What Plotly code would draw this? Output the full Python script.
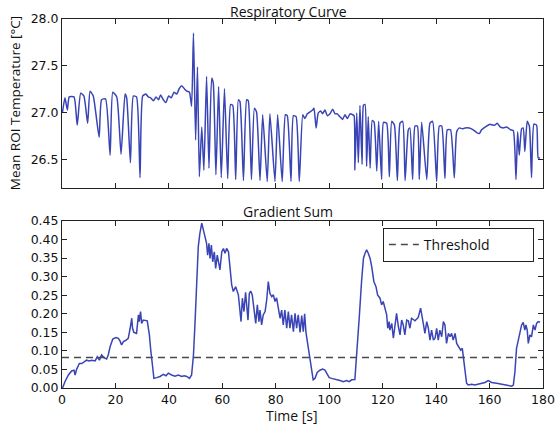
import plotly.graph_objects as go

# ---------------- data ----------------
RESP_T = [0.2, 1.1, 2.0, 2.7, 4.5, 5.7, 7.0, 8.2, 9.6, 10.5,
          11.7, 13.9, 14.8, 16.3, 18.0, 19.0, 20.5, 22.1, 23.6, 24.2,
          25.6, 26.7, 27.9, 29.2, 30.2, 31.4, 32.3, 33.2, 34.2, 35.2,
          36.1, 36.9, 37.9, 38.9, 39.9, 40.9, 41.9, 42.9, 43.9, 44.8,
          46.0, 46.9, 47.7, 48.5, 49.2, 50.0, 50.7, 51.4, 52.3, 53.1,
          54.1, 55.0, 56.0, 56.6, 57.6, 58.6, 59.6, 60.8, 62.0, 63.1,
          63.9, 65.0, 66.0, 66.6, 67.9, 69.1, 69.7, 70.9, 72.0, 72.8,
          74.1, 75.1, 76.8, 77.8, 79.7, 80.7, 82.4, 83.6, 84.3, 85.7,
          86.6, 87.6, 88.8, 90.1, 90.9, 91.8, 92.8, 93.8, 94.3, 95.1,
          95.9, 96.8, 97.5, 98.4, 99.3, 100.3, 101.3, 102.2, 103.0, 104.0,
          105.0, 105.9, 106.8, 107.8, 108.8, 109.3, 109.6, 110.3, 110.9, 111.5,
          112.3, 112.8, 113.4, 114.0, 114.6, 115.3, 116.1, 116.8, 117.8, 118.5,
          119.6, 120.3, 121.5, 122.5, 123.4, 124.4, 125.5, 126.5, 127.5, 128.4,
          129.6, 130.2, 131.2, 132.1, 133.0, 133.7, 134.6, 136.5, 137.7, 138.7,
          140.2, 141.2, 142.1, 143.3, 144.2, 145.4, 146.8, 147.7, 148.7, 149.9,
          150.8, 152.4, 153.9, 155.2, 156.2, 157.0, 157.9, 158.9, 160.2, 161.2,
          162.0, 162.9, 163.9, 165.1, 166.4, 167.9, 168.9, 169.9, 170.5, 171.1,
          172.0, 172.6, 173.2, 174.1, 174.9, 175.7, 176.6, 177.6, 178.2, 178.9]
RESP_V = [27.01, 27.16, 27.03, 27.17, 27.17, 26.87, 27.21, 27.18, 26.89, 27.23,
          27.18, 26.74, 27.14, 27.15, 26.55, 27.22, 27.17, 26.56, 27.20, 27.16,
          26.47, 27.18, 27.17, 26.31, 27.18, 27.20, 27.17, 27.16, 27.13, 27.17,
          27.14, 27.19, 27.14, 27.11, 27.18, 27.16, 27.22, 27.20, 27.26, 27.29,
          27.25, 27.23, 27.22, 27.07, 27.85, 26.71, 27.49, 26.32, 26.85, 26.39,
          27.39, 26.41, 27.37, 27.32, 26.34, 27.28, 26.31, 27.26, 26.30, 27.09,
          27.08, 26.29, 27.14, 27.12, 26.28, 27.14, 27.13, 26.29, 27.05, 27.01,
          26.28, 26.98, 26.27, 26.99, 26.27, 26.98, 26.27, 26.98, 26.97, 26.27,
          26.97, 26.96, 26.27, 26.98, 26.94, 26.99, 27.01, 27.03, 27.05, 26.84,
          27.00, 27.02, 26.99, 27.03, 26.97, 26.99, 27.04, 26.99, 26.99, 26.96,
          26.93, 26.98, 26.94, 26.99, 26.98, 26.97, 26.39, 27.00, 26.47, 27.08,
          26.45, 27.08, 27.09, 26.43, 26.96, 26.41, 26.92, 26.90, 26.38, 26.91,
          26.29, 26.90, 26.89, 26.32, 26.91, 26.87, 26.28, 26.89, 26.91, 26.28,
          26.82, 26.84, 26.29, 26.86, 26.86, 26.29, 26.90, 26.29, 26.89, 26.91,
          26.27, 26.86, 26.86, 26.30, 26.82, 26.82, 26.31, 26.80, 26.84, 26.83,
          26.84, 26.84, 26.82, 26.79, 26.78, 26.82, 26.84, 26.86, 26.88, 26.87,
          26.87, 26.89, 26.85, 26.84, 26.85, 26.82, 26.81, 26.29, 26.80, 26.55,
          26.83, 26.84, 26.59, 26.91, 26.86, 26.31, 26.88, 26.87, 26.52, 26.52]

GRAD_T = [0.2, 1.1, 2.4, 3.6, 4.5, 4.9, 5.5, 6.5, 7.4, 8.2,
          9.2, 10.2, 11.1, 12.4, 13.2, 14.0, 14.8, 15.7, 16.7, 17.3,
          18.0, 19.0, 20.2, 21.1, 21.7, 22.3, 23.0, 24.0, 24.8, 25.5,
          26.1, 26.4, 26.9, 27.9, 28.6, 28.9, 29.4, 29.8, 30.4, 31.9,
          32.7, 33.2, 33.9, 34.4, 35.4, 36.7, 37.9, 38.9, 39.8, 41.0,
          42.3, 43.5, 44.8, 45.7, 46.7, 47.7, 48.5, 49.2, 49.8, 50.4,
          51.0, 51.6, 52.3, 52.9, 53.5, 54.1, 54.5, 55.0, 55.4, 55.9,
          56.4, 57.0, 57.5, 58.1, 58.8, 59.1, 59.8, 60.4, 61.0, 61.6,
          62.3, 62.9, 63.5, 64.1, 65.0, 66.0, 66.6, 67.0, 67.5, 68.1,
          68.7, 69.1, 69.6, 70.1, 70.6, 71.2, 71.9, 72.5, 73.1, 73.7,
          74.1, 74.7, 75.3, 76.0, 76.6, 77.2, 77.8, 78.5, 79.1, 79.7,
          80.3, 81.0, 81.6, 82.2, 82.8, 83.4, 84.1, 84.7, 85.3, 85.9,
          86.6, 87.2, 87.8, 88.4, 89.1, 89.7, 90.3, 90.8, 91.3, 92.2,
          92.8, 93.4, 94.0, 94.7, 95.5, 96.5, 97.5, 98.4, 99.3, 100.0,
          100.9, 102.2, 103.0, 104.0, 105.3, 106.5, 107.5, 108.4, 109.6, 110.5,
          111.3, 112.1, 112.8, 113.4, 114.0, 114.6, 115.3, 115.9, 116.7, 117.5,
          118.1, 119.0, 119.6, 120.2, 120.9, 121.5, 121.9, 122.4, 122.7, 123.4,
          124.0, 124.6, 125.2, 125.9, 126.5, 127.1, 127.7, 128.3, 129.0, 129.6,
          130.2, 130.8, 132.1, 133.3, 134.2, 135.2, 135.8, 136.5, 137.1, 137.7,
          138.3, 139.0, 139.6, 140.2, 140.8, 141.4, 142.1, 142.7, 143.3, 143.9,
          144.6, 145.2, 145.8, 146.4, 147.1, 147.7, 148.3, 149.2, 149.8, 150.2,
          150.8, 151.4, 152.0, 153.3, 154.5, 155.8, 157.0, 158.3, 159.5, 160.8,
          162.6, 164.5, 166.4, 168.3, 168.9, 169.5, 170.1, 170.8, 171.4, 172.0,
          172.6, 173.2, 173.6, 174.1, 174.5, 175.1, 175.7, 176.4, 177.0, 177.6,
          178.2, 178.9]
GRAD_V = [0.000, 0.017, 0.035, 0.046, 0.048, 0.035, 0.051, 0.066, 0.066, 0.071,
          0.075, 0.073, 0.075, 0.073, 0.084, 0.075, 0.089, 0.082, 0.078, 0.089,
          0.111, 0.132, 0.136, 0.134, 0.127, 0.116, 0.125, 0.129, 0.134, 0.161,
          0.188, 0.161, 0.150, 0.147, 0.197, 0.179, 0.206, 0.174, 0.183, 0.181,
          0.143, 0.103, 0.053, 0.026, 0.028, 0.031, 0.037, 0.033, 0.040, 0.035,
          0.032, 0.035, 0.031, 0.033, 0.031, 0.026, 0.035, 0.089, 0.179, 0.305,
          0.381, 0.417, 0.444, 0.426, 0.403, 0.390, 0.358, 0.390, 0.349, 0.385,
          0.340, 0.367, 0.322, 0.358, 0.331, 0.318, 0.367, 0.376, 0.363, 0.376,
          0.367, 0.331, 0.278, 0.260, 0.273, 0.251, 0.206, 0.179, 0.242, 0.206,
          0.258, 0.215, 0.183, 0.255, 0.261, 0.251, 0.215, 0.174, 0.224, 0.179,
          0.210, 0.170, 0.197, 0.206, 0.237, 0.287, 0.255, 0.246, 0.251, 0.233,
          0.243, 0.215, 0.188, 0.210, 0.170, 0.210, 0.161, 0.206, 0.161, 0.197,
          0.152, 0.201, 0.161, 0.197, 0.150, 0.195, 0.152, 0.200, 0.150, 0.107,
          0.080, 0.053, 0.022, 0.026, 0.042, 0.048, 0.051, 0.048, 0.037, 0.028,
          0.026, 0.024, 0.022, 0.020, 0.017, 0.020, 0.017, 0.022, 0.023, 0.107,
          0.197, 0.287, 0.349, 0.363, 0.372, 0.363, 0.349, 0.327, 0.287, 0.273,
          0.251, 0.242, 0.224, 0.233, 0.215, 0.197, 0.161, 0.179, 0.156, 0.174,
          0.134, 0.165, 0.201, 0.165, 0.143, 0.183, 0.170, 0.143, 0.183, 0.181,
          0.161, 0.188, 0.181, 0.190, 0.215, 0.174, 0.147, 0.179, 0.161, 0.129,
          0.156, 0.129, 0.134, 0.161, 0.129, 0.156, 0.138, 0.179, 0.170, 0.120,
          0.147, 0.138, 0.147, 0.129, 0.147, 0.120, 0.111, 0.102, 0.107, 0.080,
          0.044, 0.013, 0.008, 0.010, 0.008, 0.011, 0.013, 0.015, 0.020, 0.015,
          0.013, 0.010, 0.008, 0.005, 0.008, 0.044, 0.107, 0.129, 0.156, 0.170,
          0.177, 0.156, 0.170, 0.156, 0.120, 0.143, 0.138, 0.170, 0.156, 0.174,
          0.179, 0.177]

THRESHOLD = 0.082
T_RANGE = [0, 180]
X_TICKS = [0, 20, 40, 60, 80, 100, 120, 140, 160, 180]
TOP_Y_TICKS = [26.5, 27.0, 27.5, 28.0]
BOT_Y_TICKS = [0.00, 0.05, 0.10, 0.15, 0.20, 0.25, 0.30, 0.35, 0.40, 0.45]

# ---------------- figure ----------------
LINE_COLOR = "#3a45b5"
AX_COLOR = "#222222"
TICK_FONT = dict(family="DejaVu Sans", size=12.5, color="#111111")
TEXT_FONT = "Open Sans"

fig = go.Figure()
fig.add_trace(go.Scatter(x=RESP_T, y=RESP_V, mode="lines",
                         line=dict(color=LINE_COLOR, width=1.5, shape="spline",
                                   smoothing=0.5),
                         showlegend=False, xaxis="x", yaxis="y"))
fig.add_trace(go.Scatter(x=GRAD_T, y=GRAD_V, mode="lines",
                         line=dict(color=LINE_COLOR, width=1.5),
                         showlegend=False, xaxis="x2", yaxis="y2"))
fig.add_trace(go.Scatter(x=T_RANGE, y=[THRESHOLD, THRESHOLD], mode="lines",
                         name="Threshold",
                         line=dict(color="#4a4a4a", width=1.5, dash="7px,5px"),
                         showlegend=True, xaxis="x2", yaxis="y2"))

axis_common = dict(showline=True, linecolor=AX_COLOR, linewidth=1, mirror="ticks",
                   ticks="inside", ticklen=5, tickcolor=AX_COLOR, showgrid=False,
                   zeroline=False, tickfont=TICK_FONT, automargin=False)

fig.update_layout(
    width=555, height=429,
    margin=dict(l=62, r=12, t=19, b=41, autoexpand=False),
    plot_bgcolor="white", paper_bgcolor="white",
    xaxis=dict(domain=[0, 1], anchor="y", range=T_RANGE, tickvals=X_TICKS,
               showticklabels=False, **axis_common),
    yaxis=dict(domain=[0.542, 1], anchor="x", range=[26.2, 28.0],
               tickvals=TOP_Y_TICKS, ticktext=[f"{v:.1f}" for v in TOP_Y_TICKS],
               **axis_common),
    xaxis2=dict(domain=[0, 1], anchor="y2", range=T_RANGE, tickvals=X_TICKS,
                ticktext=[str(v) for v in X_TICKS], **axis_common),
    yaxis2=dict(domain=[0, 0.4526], anchor="x2", range=[0, 0.45],
                tickvals=BOT_Y_TICKS, ticktext=[f"{v:.2f}" for v in BOT_Y_TICKS],
                **axis_common),
    legend=dict(orientation="h", x=0.981, xanchor="right", y=0.4336, yanchor="top",
                bordercolor=AX_COLOR, borderwidth=1, bgcolor="white",
                font=dict(family=TEXT_FONT, size=14, color="#111111"),
                entrywidth=104, entrywidthmode="pixels"),
    annotations=[
        dict(text="Respiratory Curve", xref="paper", yref="paper", x=0.47, y=1,
             xanchor="center", yanchor="middle", yshift=8, showarrow=False,
             font=dict(family=TEXT_FONT, size=14, color="#111111")),
        dict(text="Gradient Sum", xref="paper", yref="paper", x=0.47, y=0.4526,
             xanchor="center", yanchor="middle", yshift=9, showarrow=False,
             font=dict(family=TEXT_FONT, size=14, color="#111111")),
        dict(text="Time [s]", xref="paper", yref="paper", x=0.478, y=0,
             xanchor="center", yanchor="middle", yshift=-27, showarrow=False,
             font=dict(family=TEXT_FONT, size=14, color="#111111")),
        dict(text="Mean ROI Temperature [°C]", xref="paper", yref="paper",
             x=-0.0977, y=0.772, xanchor="center", yanchor="middle", textangle=-90,
             showarrow=False,
             font=dict(family=TEXT_FONT, size=13.5, color="#111111")),
    ],
)

fig.write_html("out.html",
               config={"displayModeBar": False},
               post_script="document.body.style.margin='0px';"
                           "document.body.style.overflow='hidden';")
